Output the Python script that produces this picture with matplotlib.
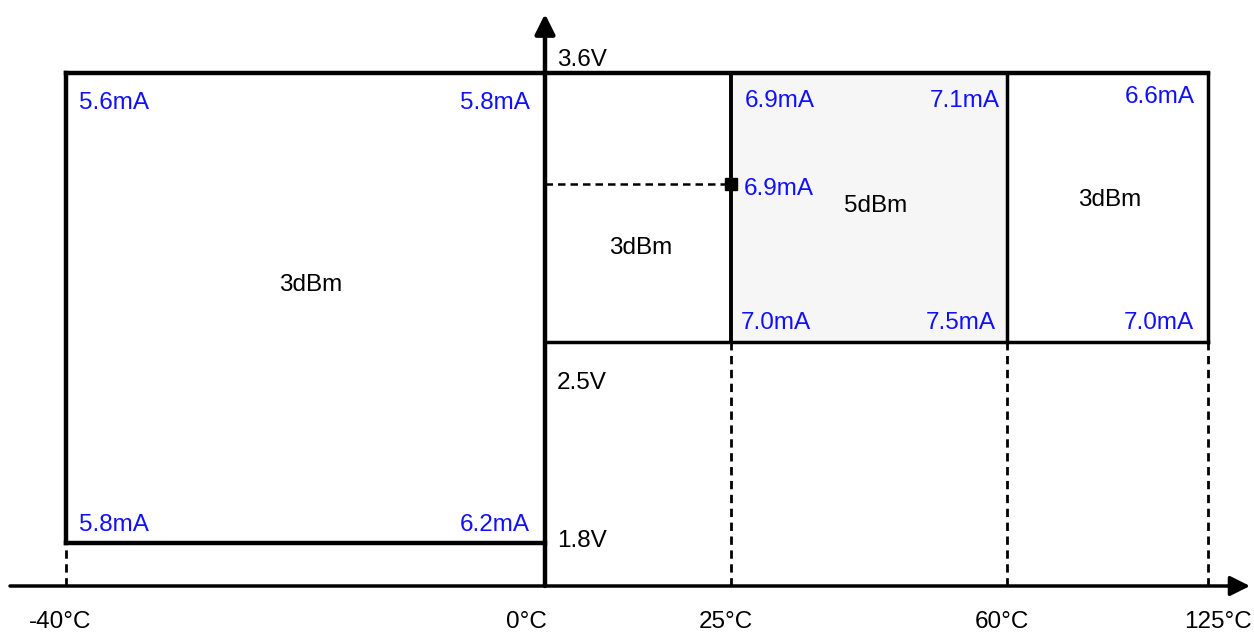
import numpy as np
import matplotlib
matplotlib.use("Agg")
import matplotlib.pyplot as plt
from matplotlib.patches import Rectangle

plt.rcParams["font.family"] = ["Liberation Sans", "DejaVu Sans"]

# Temperatur- und Spannungsstufen
temps = [-40, 0, 25, 60, 125]
temp_labels = ["-40°C", "0°C", "25°C", "60°C", "125°C"]
volts = [1.8, 2.5, 3.6]
volt_labels = ["1.8V", "2.5V", "3.6V"]
v_mid = 3.3  # gestrichelte Marke

# Strom in den Ecken der Felder (mA)
left_box = {"tl": 5.6, "tr": 5.8, "bl": 5.8, "br": 6.2}
mid_box = {"tl": 6.9, "tr": 7.1, "ml": 6.9, "bl": 7.0, "br": 7.5}
right_box = {"tr": 6.6, "br": 7.0}
power = {"left": "3dBm", "low": "3dBm", "mid": "5dBm", "right": "3dBm"}

# Layout: nicht-lineare Achsen (Wert -> Pixel)
T_ANCH = [-46, -40, 0, 25, 60, 125, 131]
X_PIX = [0, 66, 545, 731, 1007, 1208, 1254]
V_ANCH = [1.5, 1.65, 1.8, 2.5, 3.3, 3.6, 3.9]
Y_PIX = [0, 47, 90, 291, 449, 560, 633]
V_AXIS = 1.65


def fx(t):
    return np.interp(t, T_ANCH, X_PIX)


def ix(p):
    return np.interp(p, X_PIX, T_ANCH)


def fy(v):
    return np.interp(v, V_ANCH, Y_PIX)


def iy(p):
    return np.interp(p, Y_PIX, V_ANCH)


fig = plt.figure(figsize=(12.54, 6.33), dpi=100)
ax = fig.add_axes([0, 0, 1, 1])
ax.set_xscale("function", functions=(fx, ix))
ax.set_yscale("function", functions=(fy, iy))
ax.set_xlim(T_ANCH[0], T_ANCH[-1])
ax.set_ylim(V_ANCH[0], V_ANCH[-1])
ax.axis("off")

blue = "#1010ff"
fs = 17.5
thick = 3.2
thin = 2.5

# graues Feld 25..60 / 2.5..3.6
ax.add_patch(Rectangle((temps[2], volts[1]), temps[3] - temps[2], volts[2] - volts[1],
                       facecolor="#f6f6f6", edgecolor="none", zorder=0))

# Rahmen
ax.plot([temps[0], temps[-1]], [volts[2], volts[2]], color="black", lw=thick, solid_capstyle="projecting")
ax.plot([temps[0], temps[0]], [volts[0], volts[2]], color="black", lw=thick, solid_capstyle="projecting")
ax.plot([temps[0], temps[1]], [volts[0], volts[0]], color="black", lw=thick, solid_capstyle="projecting")
ax.plot([temps[1], temps[-1]], [volts[1], volts[1]], color="black", lw=thin, solid_capstyle="projecting")
ax.plot([temps[2], temps[2]], [volts[1], volts[2]], color="black", lw=2.8)
ax.plot([temps[3], temps[3]], [volts[1], volts[2]], color="black", lw=thin)
ax.plot([temps[4], temps[4]], [volts[1], volts[2]], color="black", lw=thin)

# gestrichelte Hilfslinien
ax.plot([temps[0], temps[0]], [V_AXIS, volts[0]], color="black", lw=2.0, ls=(0, (3, 2)))
for t in temps[2:]:
    ax.plot([t, t], [V_AXIS, volts[1]], color="black", lw=2.0, ls=(0, (3, 2)))
ax.plot([temps[1], temps[2]], [v_mid, v_mid], color="black", lw=1.8, ls=(0, (3, 2)))
ax.plot([temps[2]], [v_mid], marker="s", color="black", markersize=8)

# Achsen mit Pfeilen
arrow = dict(arrowstyle="-|>,head_length=0.8,head_width=0.4", color="black",
             mutation_scale=15, shrinkA=0, shrinkB=0)
ax.annotate("", xy=(ix(1250), V_AXIS), xytext=(ix(10), V_AXIS),
            arrowprops=dict(arrow, lw=2.5))
ax.annotate("", xy=(temps[1], iy(619)), xytext=(temps[1], V_AXIS),
            arrowprops=dict(arrow, lw=3.2))


def label(txt, xy, off, ha, color=blue):
    ax.annotate(txt, xy=xy, xytext=off, textcoords="offset pixels",
                ha=ha, va="center", fontsize=fs, color=color)


# Temperatur-Beschriftung
t_off = [-6, -19, -5, -5, 10]
for t, lab, o in zip(temps, temp_labels, t_off):
    label(lab, (t, V_AXIS), (o, -36), "center", "black")

# Spannungs-Beschriftung
v_off = [(12, 2), (12, -41), (12, 13)]
for v, lab, o in zip(volts, volt_labels, v_off):
    label(lab, (temps[1], v), o, "left", "black")

# Strom links
label(f"{left_box['tl']}mA", (temps[0], volts[2]), (13, -30), "left")
label(f"{left_box['tr']}mA", (temps[1], volts[2]), (-15, -30), "right")
label(f"{left_box['bl']}mA", (temps[0], volts[0]), (13, 18), "left")
label(f"{left_box['br']}mA", (temps[1], volts[0]), (-15, 18), "right")

# Strom Mitte
label(f"{mid_box['tl']}mA", (temps[2], volts[2]), (14, -28), "left")
label(f"{mid_box['tr']}mA", (temps[3], volts[2]), (-7, -28), "right")
label(f"{mid_box['ml']}mA", (temps[2], v_mid), (13, -5), "left")
label(f"{mid_box['bl']}mA", (temps[2], volts[1]), (10, 19), "left")
label(f"{mid_box['br']}mA", (temps[3], volts[1]), (-11, 19), "right")

# Strom rechts
label(f"{right_box['tr']}mA", (temps[4], volts[2]), (-13, -24), "right")
label(f"{right_box['br']}mA", (temps[4], volts[1]), (-14, 19), "right")

# Leistung
ax.text(-19.6, 2.79, power["left"], ha="center", va="center", fontsize=fs)
ax.text(12.8, 2.976, power["low"], ha="center", va="center", fontsize=fs)
ax.text(43.4, 3.19, power["mid"], ha="center", va="center", fontsize=fs)
ax.text(93.3, 3.22, power["right"], ha="center", va="center", fontsize=fs)

plt.savefig("out.png", dpi=100)
